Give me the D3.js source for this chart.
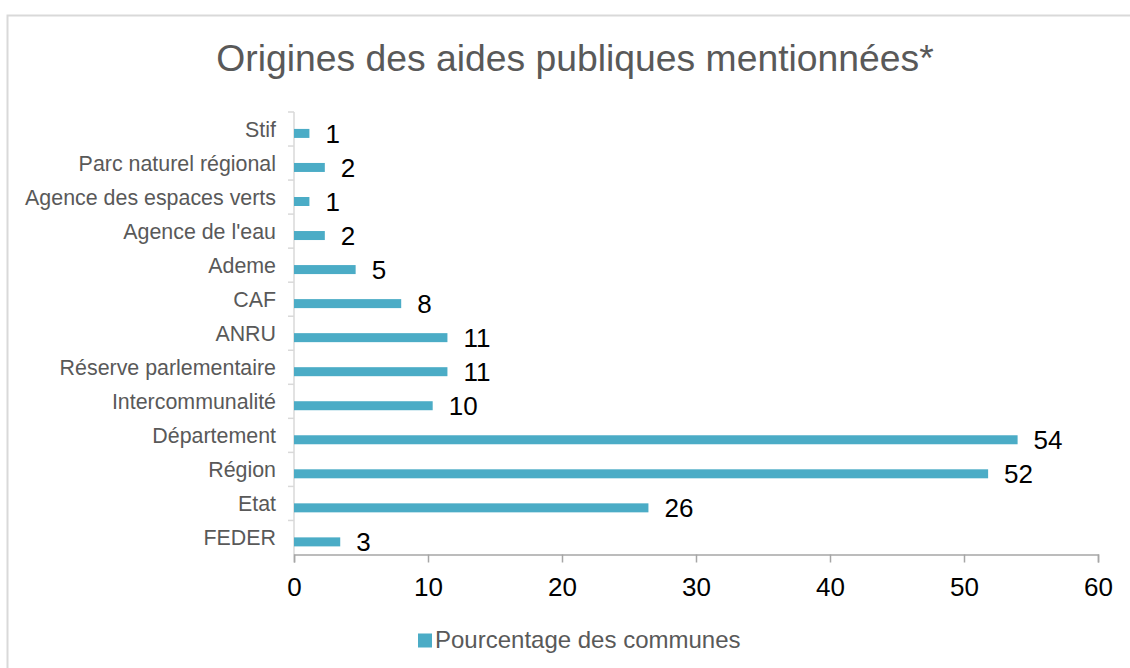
<!DOCTYPE html>
<html>
<head>
<meta charset="utf-8">
<script src="https://cdn.jsdelivr.net/npm/d3@7"></script>
<style>
  body { margin: 0; background: #fff; }
  svg { display: block; font-family: "Liberation Sans", Arial, sans-serif; }
</style>
</head>
<body>
<script>
// data (top to bottom)
var categories = ['Stif', 'Parc naturel régional', 'Agence des espaces verts', "Agence de l'eau",
  'Ademe', 'CAF', 'ANRU', 'Réserve parlementaire', 'Intercommunalité', 'Département',
  'Région', 'Etat', 'FEDER'];
var values = [1.15, 2.3, 1.15, 2.3, 4.6, 8.0, 11.45, 11.45, 10.35, 54.0, 51.8, 26.45, 3.45];
var xTicks = [0, 10, 20, 30, 40, 50, 60];
var seriesName = 'Pourcentage des communes';
var title = 'Origines des aides publiques mentionnées*';

var W = 1130, H = 668;
var plotLeft = 294, plotRight = 1098, plotTop = 112, plotBottom = 554.5;
var barColor = '#4bacc6';

var svg = d3.select('body').append('svg')
  .attr('width', W)
  .attr('height', H);

// chart frame
svg.append('rect')
  .attr('x', 7.5).attr('y', 15.5)
  .attr('width', W).attr('height', H)
  .attr('fill', 'white')
  .attr('stroke', '#d9d9d9')
  .attr('stroke-width', 2);

svg.append('text')
  .attr('x', 575).attr('y', 71)
  .attr('text-anchor', 'middle')
  .attr('font-size', 37.3)
  .attr('fill', '#595959')
  .text(title);

var x = d3.scaleLinear().domain([0, 60]).range([plotLeft, plotRight]);
var y = d3.scaleBand().domain(categories).range([plotTop, plotBottom]);

// y axis (category ticks at band edges)
var yg = svg.append('g');
yg.append('line')
  .attr('x1', plotLeft).attr('x2', plotLeft)
  .attr('y1', plotTop).attr('y2', plotBottom)
  .attr('stroke', '#d9d9d9').attr('stroke-width', 1.5);
yg.selectAll('line.tk')
  .data(categories)
  .enter().append('line')
  .attr('class', 'tk')
  .attr('x1', plotLeft - 6).attr('x2', plotLeft)
  .attr('y1', function (d) { return y(d); })
  .attr('y2', function (d) { return y(d); })
  .attr('stroke', '#d9d9d9').attr('stroke-width', 1.5);
yg.selectAll('text')
  .data(categories)
  .enter().append('text')
  .attr('x', 276)
  .attr('y', function (d) { return y(d) + y.bandwidth() / 2; })
  .attr('dy', '0.35em')
  .attr('text-anchor', 'end')
  .attr('font-size', 21.4)
  .attr('fill', '#595959')
  .text(function (d) { return d; });

// x axis
var xAxis = d3.axisBottom(x).tickValues(xTicks).tickSize(8).tickPadding(15).tickFormat(d3.format('d'));
var xg = svg.append('g')
  .attr('transform', 'translate(0,' + plotBottom + ')')
  .call(xAxis);
xg.select('.domain').attr('stroke', '#a6a6a6').attr('stroke-width', 1.5);
xg.selectAll('.tick line').attr('stroke', '#a6a6a6').attr('stroke-width', 1.5);
xg.selectAll('.tick text')
  .attr('font-size', 26)
  .attr('font-family', '"Liberation Sans", Arial, sans-serif')
  .attr('fill', '#000')
  .attr('dy', '0.71em');

// bars
var barH = 9, barOff = 4.4;
svg.selectAll('rect.bar')
  .data(values)
  .enter().append('rect')
  .attr('class', 'bar')
  .attr('x', x(0))
  .attr('y', function (d, i) { return y(categories[i]) + y.bandwidth() / 2 + barOff - barH / 2; })
  .attr('width', function (d) { return x(d) - x(0); })
  .attr('height', barH)
  .attr('fill', barColor);

// value labels
svg.selectAll('text.val')
  .data(values)
  .enter().append('text')
  .attr('class', 'val')
  .attr('x', function (d) { return x(d) + 16; })
  .attr('y', function (d, i) { return y(categories[i]) + y.bandwidth() / 2 + barOff; })
  .attr('dy', '0.35em')
  .attr('font-size', 26)
  .attr('fill', '#000')
  .text(function (d) { return d3.format('.0f')(d); });

// legend
svg.append('rect')
  .attr('x', 418).attr('y', 633.5)
  .attr('width', 14).attr('height', 14)
  .attr('fill', barColor);
svg.append('text')
  .attr('x', 435).attr('y', 647.5)
  .attr('font-size', 24)
  .attr('fill', '#595959')
  .text(seriesName);
</script>
</body>
</html>
